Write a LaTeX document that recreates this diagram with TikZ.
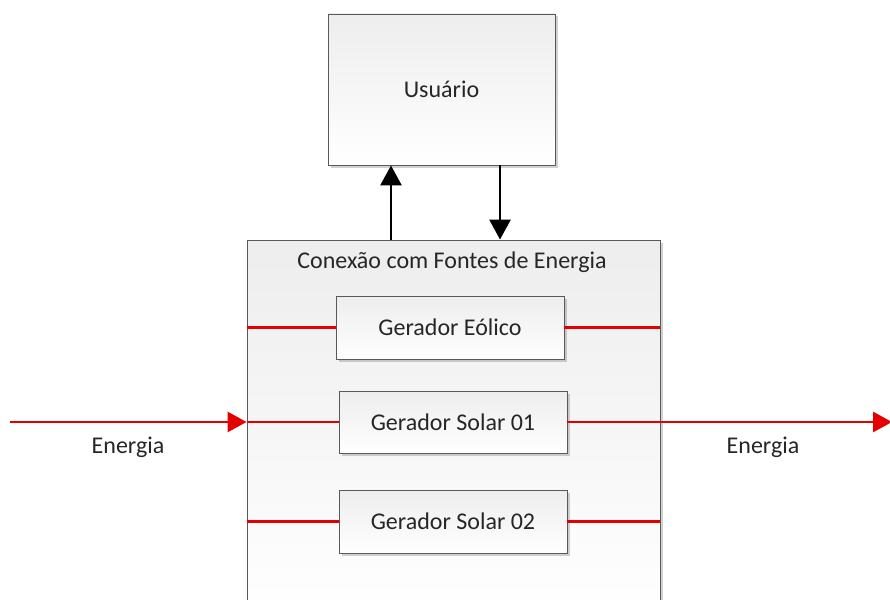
\documentclass[tikz,border=0pt]{standalone}
\usepackage{fontspec}
\setmainfont{Carlito}
\usetikzlibrary{arrows.meta,shadows}
\begin{document}
\begin{tikzpicture}[x=1pt,y=-1pt,
  box/.style={draw=black!65, line width=0.9pt, rectangle, inner sep=0pt,
    top color=black!7, bottom color=white,
    drop shadow={shadow xshift=2.5pt, shadow yshift=-2.5pt, fill=black, opacity=0.18}},
  lbl/.style={font=\fontsize{24}{28}\selectfont, text=black!85, inner sep=0pt},
  redline/.style={draw=red!90!black, line width=2.8pt},
  redarrow/.style={redline, -{Triangle[length=19pt,width=20pt]}},
  blkarrow/.style={draw=black, line width=2.8pt, -{Triangle[length=20pt,width=21pt]}}]
\useasboundingbox (0,0) rectangle (890,599);
\clip (0,0) rectangle (890,599);
\fill[white] (0,0) rectangle (890,599);
% boxes
\node[box, minimum width=413pt, minimum height=380pt] (conn) at (453.5,430) {};
\node[box, minimum width=227pt, minimum height=151pt] (user) at (441.5,89.5) {};
\node[lbl] at (user.center) {Usuário};
\node[lbl] (title) at (452,262) {Conexão com Fontes de Energia};
\node[box, minimum width=228pt, minimum height=63pt] (eol) at (450,327.5) {};
\node[lbl] at (eol.center) {Gerador Eólico};
\node[box, minimum width=228pt, minimum height=62pt] (sol1) at (453,422) {};
\node[lbl] at (sol1.center) {Gerador Solar 01};
\node[box, minimum width=228pt, minimum height=63pt] (sol2) at (453,521.5) {};
\node[lbl] at (sol2.center) {Gerador Solar 02};
% black arrows
\coordinate (ax1) at (391,0);
\coordinate (ax2) at (500,0);
\draw[blkarrow] (ax1 |- conn.north) -- (ax1 |- user.south);
\draw[blkarrow] (ax2 |- user.south) -- (ax2 |- conn.north);
% red lines
\draw[redline] (eol.west -| conn.west) -- (eol.west);
\draw[redline] (eol.east) -- (eol.east -| conn.east);
\draw[redline] (sol2.west -| conn.west) -- (sol2.west);
\draw[redline] (sol2.east) -- (sol2.east -| conn.east);
\draw[redline] (sol1.west -| conn.west) -- (sol1.west);
\coordinate (inL) at (10,422);
\coordinate (outR) at (892,422);
\draw[redarrow] (inL) -- (inL -| conn.west);
\draw[redarrow] (sol1.east) -- (outR);
% labels
\node[lbl] (e1) at (128,447) {Energia};
\node[lbl] (e2) at (763,447) {Energia};
\end{tikzpicture}
\end{document}
